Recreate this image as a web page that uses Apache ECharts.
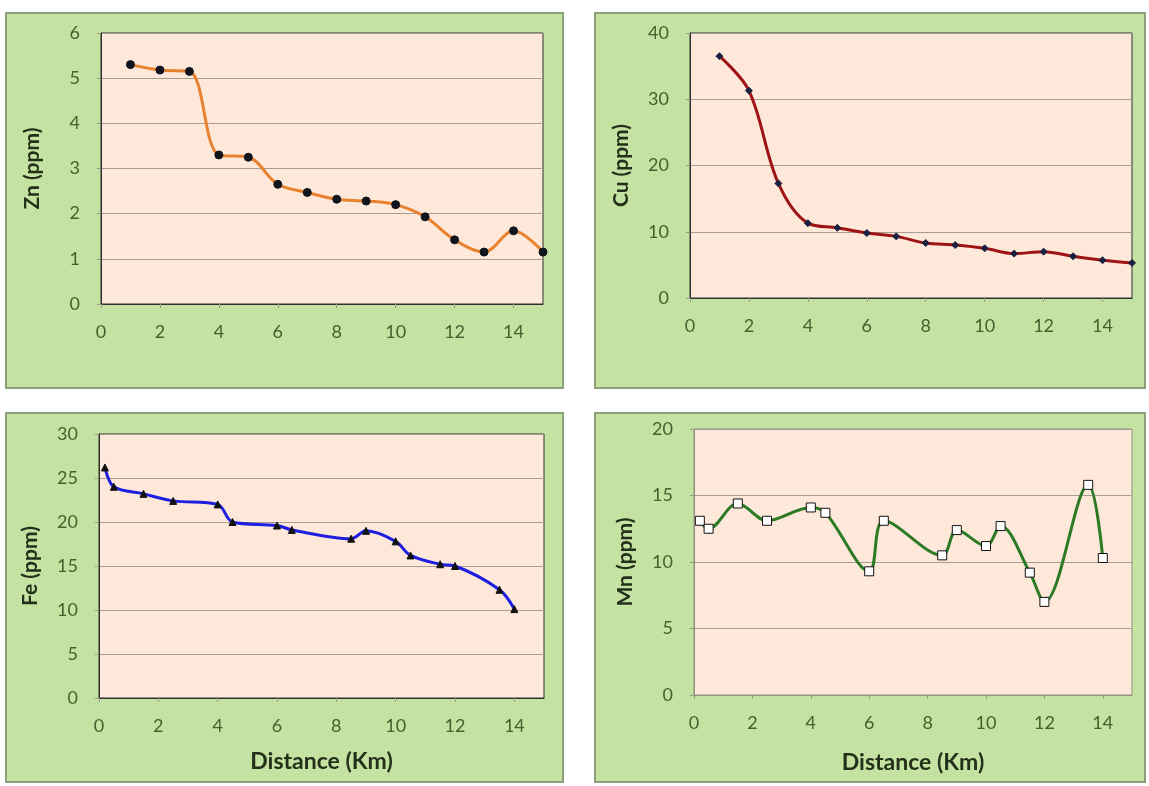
<!DOCTYPE html>
<html>
<head>
<meta charset="utf-8">
<script src="https://cdn.jsdelivr.net/npm/echarts@6/dist/echarts.min.js"></script>
<style>
  body { margin: 0; background: #fff; }
  #main { width: 1149px; height: 786px; }
</style>
</head>
<body>
<div id="main"></div>
<script>
// distances (km)
const znDist = [1, 2, 3, 4, 5, 6, 7, 8, 9, 10, 11, 12, 13, 14, 15];
const znVals = [5.3, 5.18, 5.15, 3.3, 3.25, 2.65, 2.47, 2.32, 2.28, 2.2, 1.93, 1.42, 1.15, 1.62, 1.15];

const cuDist = [1, 2, 3, 4, 5, 6, 7, 8, 9, 10, 11, 12, 13, 14, 15];
const cuVals = [36.5, 31.3, 17.3, 11.3, 10.6, 9.8, 9.3, 8.3, 8.0, 7.5, 6.7, 7.0, 6.3, 5.7, 5.3];

const feDist = [0.2, 0.5, 1.5, 2.5, 4, 4.5, 6, 6.5, 8.5, 9, 10, 10.5, 11.5, 12, 13.5, 14];
const feVals = [26.2, 24, 23.2, 22.4, 22, 20, 19.6, 19.1, 18.1, 19, 17.8, 16.2, 15.2, 15, 12.3, 10.1];

const mnDist = [0.2, 0.5, 1.5, 2.5, 4, 4.5, 6, 6.5, 8.5, 9, 10, 10.5, 11.5, 12, 13.5, 14];
const mnVals = [13.1, 12.5, 14.4, 13.1, 14.1, 13.7, 9.3, 13.1, 10.5, 12.4, 11.2, 12.7, 9.2, 7.0, 15.8, 10.3];

const xTicks = [0, 2, 4, 6, 8, 10, 12, 14];

const font = 'Lato, "Open Sans", sans-serif';
const labelColor = '#46602f';
const titleColor = '#24301a';

function pairs(xs, ys) {
  return xs.map((x, i) => [x, ys[i]]);
}

// plot area boxes
const grids = [
  { left: 101, top: 33, width: 442, height: 271 },
  { left: 690, top: 33, width: 442, height: 265 },
  { left: 99, top: 434, width: 445, height: 264 },
  { left: 694, top: 429, width: 438, height: 266 }
];

const panels = [
  { name: 'Zn (ppm)', max: 6, step: 1, data: pairs(znDist, znVals), color: '#e8822e', symbol: 'circle', size: 8, mFill: '#10141c', mBorder: '#10141c', xName: '', frame: '#303030', xGap: 54 },
  { name: 'Cu (ppm)', max: 40, step: 10, data: pairs(cuDist, cuVals), color: '#9e1414', symbol: 'diamond', size: 7, mFill: '#1a2040', mBorder: '#1a2040', xName: '', frame: '#303030', xGap: 54 },
  { name: 'Fe (ppm)', max: 30, step: 5, data: pairs(feDist, feVals), color: '#1e1ee0', symbol: 'triangle', size: 7, mFill: '#111', mBorder: '#111', xName: 'Distance (Km)', frame: '#303030', xGap: 52 },
  { name: 'Mn (ppm)', max: 20, step: 5, data: pairs(mnDist, mnVals), color: '#2d7a24', symbol: 'rect', size: 9, mFill: '#fff', mBorder: '#111', xName: 'Distance (Km)', frame: '#8e9282', xGap: 56 }
];

const chart = echarts.init(document.getElementById('main'));

const grid = [], xAxis = [], yAxis = [], series = [];
panels.forEach((p, i) => {
  grid.push(Object.assign({
    show: true, backgroundColor: '#fde8da', borderColor: p.frame, borderWidth: 1
  }, grids[i]));
  xAxis.push({
    type: 'value', gridIndex: i, min: 0, max: 15, interval: 2,
    name: p.xName, nameLocation: 'middle', nameGap: p.xGap,
    nameTextStyle: { fontFamily: font, fontSize: 23, fontWeight: 'bold', color: titleColor },
    axisLine: { lineStyle: { color: p.frame } },
    axisTick: { show: true, length: 4, lineStyle: { color: '#9a9a8a' } },
    axisLabel: {
      margin: 19, fontFamily: font, fontSize: 18, color: labelColor, showMaxLabel: false,
      formatter: v => (xTicks.indexOf(v) >= 0 ? String(v) : '')
    },
    splitLine: { show: false }
  });
  yAxis.push({
    type: 'value', gridIndex: i, min: 0, max: p.max, interval: p.step,
    name: p.name, nameLocation: 'middle', nameRotate: 90, nameGap: 58,
    nameTextStyle: { fontFamily: font, fontSize: 21, fontWeight: 'bold', color: titleColor },
    axisLine: { show: true, lineStyle: { color: p.frame } },
    axisTick: { show: true, length: 4, lineStyle: { color: '#9a9a8a' } },
    axisLabel: { margin: 21, fontFamily: font, fontSize: 18, color: labelColor },
    splitLine: { show: true, lineStyle: { color: '#a59c92', width: 1 } }
  });
  series.push({
    type: 'line', xAxisIndex: i, yAxisIndex: i, data: p.data,
    smooth: 0.35, symbol: p.symbol, symbolSize: p.size, showSymbol: true,
    lineStyle: { color: p.color, width: 3 },
    itemStyle: { color: p.mFill, borderColor: p.mBorder, borderWidth: 1 },
    z: 3
  });
});

// green chart-area panels behind each plot
const boxes = [
  [6, 13, 557, 375],
  [595, 13, 550, 375],
  [6, 413, 557, 369],
  [595, 413, 550, 369]
];

chart.setOption({
  animation: false,
  graphic: boxes.map(b => ({
    type: 'rect', z: -10, silent: true,
    shape: { x: b[0], y: b[1], width: b[2], height: b[3] },
    style: { fill: '#c4e2a2', stroke: '#8c9f78', lineWidth: 2 }
  })),
  grid: grid,
  xAxis: xAxis,
  yAxis: yAxis,
  series: series
});
</script>
</body>
</html>
